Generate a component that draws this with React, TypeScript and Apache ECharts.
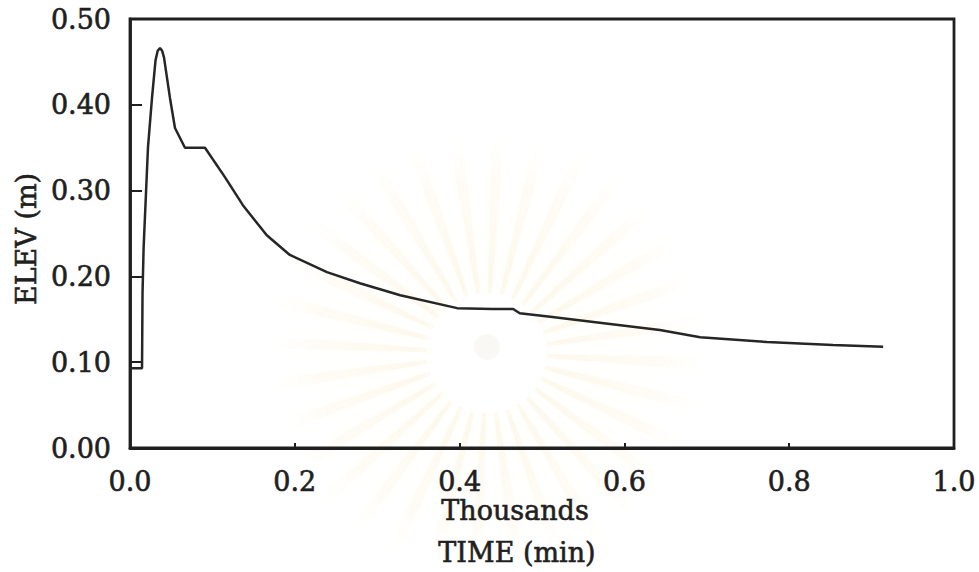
import React, { useEffect, useRef } from "react";
import * as echarts from "echarts";

// Water surface elevation over time (time axis in thousands of minutes)
const timeThousands = [
  0, 0.0146, 0.0152, 0.0165, 0.0218, 0.0267, 0.031, 0.0336, 0.0364, 0.039, 0.0413,
  0.0485, 0.0546, 0.0667, 0.091, 0.115, 0.137, 0.166, 0.194, 0.239, 0.279, 0.328,
  0.397, 0.44, 0.465, 0.473, 0.51, 0.57, 0.643, 0.692, 0.773, 0.853, 0.914,
];
const elevation = [
  0.093, 0.093, 0.18, 0.233, 0.35, 0.408, 0.452, 0.463, 0.466, 0.463, 0.455,
  0.408, 0.373, 0.35, 0.35, 0.316, 0.283, 0.248, 0.225, 0.205, 0.192, 0.178,
  0.163, 0.162, 0.162, 0.157, 0.153, 0.146, 0.1375, 0.129, 0.1235, 0.12, 0.118,
];

const xTitleLines = ["Thousands", "TIME (min)"];
const yTitle = "ELEV (m)";

const FONT = "DejaVu Serif";
const INK = "#1f1f1f";
const FS = 27;

// faint sunburst emblem printed behind the plot
function emblem(cx: number, cy: number) {
  const rays: any[] = [];
  const n = 32;
  for (let i = 0; i < n; i++) {
    const a = (i / n) * Math.PI * 2 + 0.05;
    const w = 0.1;
    const r0 = 60;
    const r1 = 225;
    rays.push({
      type: "polygon",
      silent: true,
      z: -10,
      shape: {
        points: [
          [cx + r0 * Math.cos(a - w * 0.35), cy + r0 * Math.sin(a - w * 0.35)],
          [cx + r1 * Math.cos(a - w * 0.3), cy + r1 * Math.sin(a - w * 0.3)],
          [cx + r1 * Math.cos(a + w * 0.3), cy + r1 * Math.sin(a + w * 0.3)],
          [cx + r0 * Math.cos(a + w * 0.35), cy + r0 * Math.sin(a + w * 0.35)],
        ],
      },
      style: {
        fill: new echarts.graphic.RadialGradient(cx, cy, r1, [
          { offset: 0.3, color: "rgba(247,232,188,0.26)" },
          { offset: 0.75, color: "rgba(249,238,205,0.16)" },
          { offset: 1, color: "rgba(252,245,225,0)" },
        ], true),
        shadowBlur: 14,
        shadowColor: "rgba(248,236,200,0.45)",
      },
    });
  }
  rays.push({
    type: "circle",
    silent: true,
    z: -9,
    shape: { cx, cy, r: 56 },
    style: { fill: "rgba(255,255,255,0.94)", shadowBlur: 14, shadowColor: "#ffffff" },
  });
  rays.push({
    type: "circle",
    silent: true,
    z: -8,
    shape: { cx, cy: cy - 6, r: 13 },
    style: { fill: "rgba(238,232,222,0.3)" },
  });
  return rays;
}

export default function App() {
  const ref = useRef<HTMLDivElement>(null);

  useEffect(() => {
    document.body.style.margin = "0";
    const chart = echarts.init(ref.current!, undefined, { renderer: "svg" });
    const data = timeThousands.map((t, i) => [t, elevation[i]]);

    const label = {
      fontFamily: FONT,
      fontSize: FS,
      color: INK,
      textBorderColor: INK,
      textBorderWidth: 0.6,
    };
    const titleStyle = (text: string) => ({
      text,
      font: `${FS}px "${FONT}"`,
      fill: INK,
      stroke: INK,
      lineWidth: 0.6,
      align: "center",
      verticalAlign: "middle",
    });

    chart.setOption({
      animation: false,
      backgroundColor: "#ffffff",
      grid: {
        left: 130,
        top: 19,
        right: 25,
        bottom: 124,
        show: true,
        borderColor: INK,
        borderWidth: 2.8,
        backgroundColor: "transparent",
      },
      xAxis: {
        type: "value",
        min: 0,
        max: 1,
        interval: 0.2,
        axisLine: { show: true, lineStyle: { color: INK, width: 2.8 } },
        axisTick: { show: true, inside: true, length: 5, lineStyle: { color: INK, width: 2 } },
        splitLine: { show: false },
        axisLabel: { ...label, margin: 20, formatter: (v: number) => v.toFixed(1) },
      },
      yAxis: {
        type: "value",
        min: 0,
        max: 0.5,
        interval: 0.1,
        axisLine: { show: true, lineStyle: { color: INK, width: 2.8 } },
        axisTick: { show: true, inside: true, length: 12, lineStyle: { color: INK, width: 2 } },
        splitLine: { show: false },
        axisLabel: { ...label, margin: 19, formatter: (v: number) => v.toFixed(2) },
      },
      graphic: [
        ...emblem(487, 353),
        { type: "text", x: 515, y: 510, style: titleStyle(xTitleLines[0]) },
        { type: "text", x: 517, y: 552, style: titleStyle(xTitleLines[1]) },
        { type: "text", x: 26, y: 239, rotation: Math.PI / 2, style: titleStyle(yTitle) },
      ],
      series: [
        {
          type: "line",
          data,
          showSymbol: false,
          smooth: false,
          lineStyle: { color: "#262626", width: 2.5 },
          z: 5,
        },
      ],
    });

    return () => chart.dispose();
  }, []);

  return <div ref={ref} style={{ width: 979, height: 572 }} />;
}
